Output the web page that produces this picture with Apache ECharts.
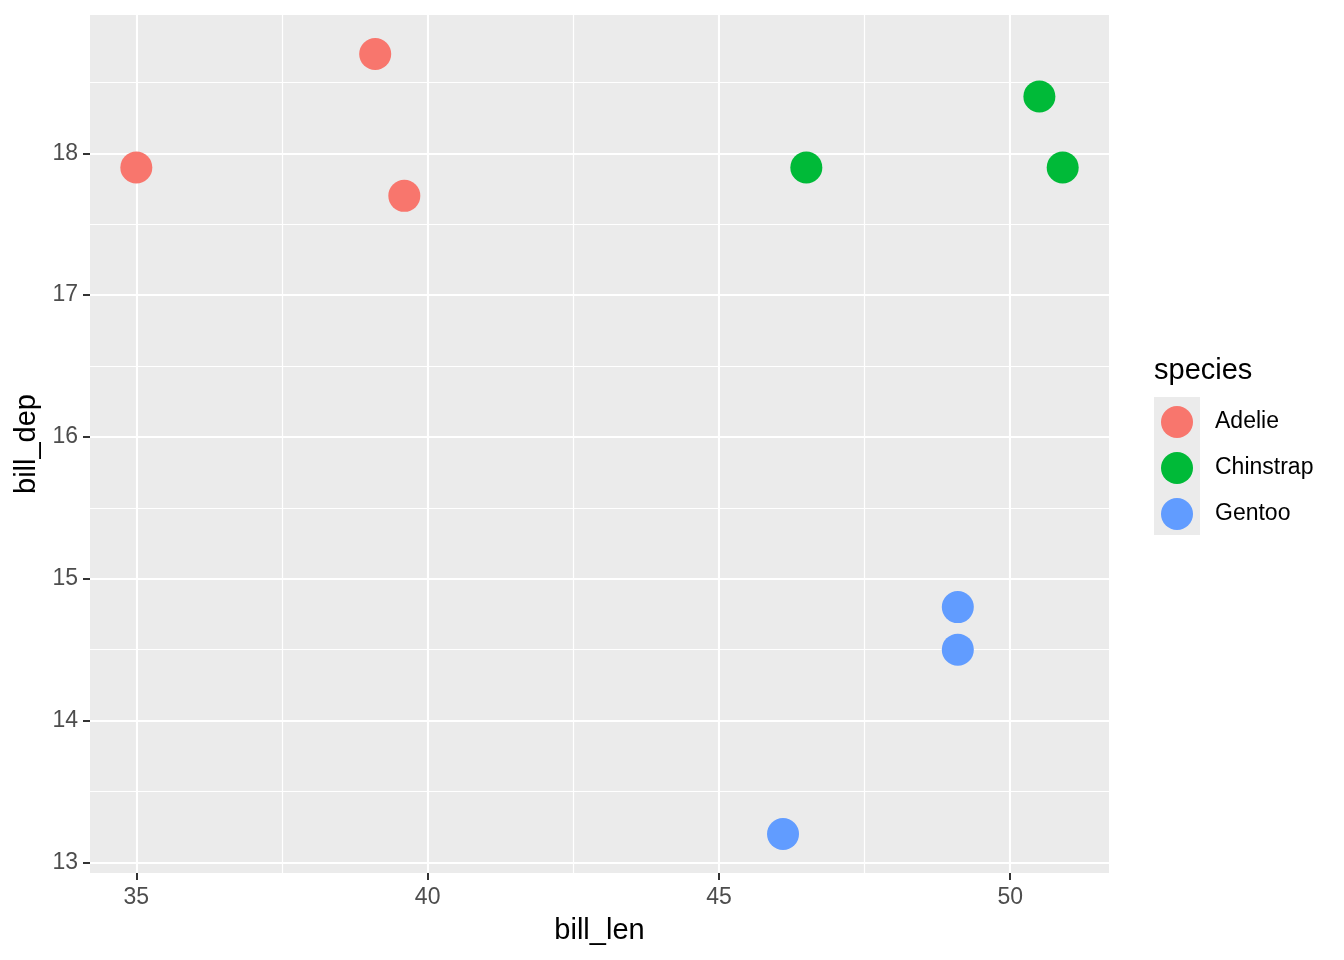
<!DOCTYPE html>
<html>
<head>
<meta charset="utf-8">
<script src="https://cdn.jsdelivr.net/npm/echarts@6/dist/echarts.min.js"></script>
<style>
  html, body { margin: 0; padding: 0; background: #fff; }
  #main { width: 1344px; height: 960px; }
</style>
</head>
<body>
<div id="main"></div>
<script>
var species = ['Adelie', 'Chinstrap', 'Gentoo'];
var colors = ['#F8766D', '#00BA38', '#619CFF'];

var adelieLen = [35.0, 39.1, 39.6];
var adelieDep = [17.9, 18.7, 17.7];
var chinstrapLen = [46.5, 50.5, 50.9];
var chinstrapDep = [17.9, 18.4, 17.9];
var gentooLen = [49.1, 49.1, 46.1];
var gentooDep = [14.8, 14.5, 13.2];

var xTicks = [35, 40, 45, 50];
var xMinor = [37.5, 42.5, 47.5];
var yTicks = [13, 14, 15, 16, 17, 18];
var yMinor = [13.5, 14.5, 15.5, 16.5, 17.5, 18.5];

var FONT = 'Liberation Sans';

function pairs(xs, ys) {
  return xs.map(function (x, i) { return [x, ys[i]]; });
}
// ggplot style 5% expansion
function expand(vals) {
  var lo = Math.min.apply(null, vals), hi = Math.max.apply(null, vals);
  var pad = (hi - lo) * 0.05;
  return [lo - pad, hi + pad];
}
var xr = expand(adelieLen.concat(chinstrapLen, gentooLen));
var yr = expand(adelieDep.concat(chinstrapDep, gentooDep));

var gridLines = []
  .concat(xTicks.map(function (v) { return { xAxis: v, lineStyle: { width: 2.1 } }; }))
  .concat(xMinor.map(function (v) { return { xAxis: v, lineStyle: { width: 1.2 } }; }))
  .concat(yTicks.map(function (v) { return { yAxis: v, lineStyle: { width: 2.1 } }; }))
  .concat(yMinor.map(function (v) { return { yAxis: v, lineStyle: { width: 1.2 } }; }));

var myChart = echarts.init(document.getElementById('main'));

var option = {
  animation: false,
  textStyle: { fontFamily: FONT },
  grid: {
    left: 90, right: 235, top: 15, bottom: 87,
    show: true, backgroundColor: '#EBEBEB', borderWidth: 0
  },
  xAxis: {
    type: 'value',
    min: xr[0], max: xr[1],
    name: 'bill_len',
    nameLocation: 'middle',
    nameGap: 43,
    nameTextStyle: { fontSize: 29, color: '#000', fontFamily: FONT },
    axisLine: { show: false },
    axisTick: { show: true, length: 7, customValues: xTicks, lineStyle: { color: '#333', width: 2 } },
    axisLabel: { customValues: xTicks, margin: 13, fontSize: 23, color: '#4D4D4D', fontFamily: FONT },
    splitLine: { show: false }
  },
  yAxis: {
    type: 'value',
    min: yr[0], max: yr[1],
    name: 'bill_dep',
    nameLocation: 'middle',
    nameGap: 45,
    nameTextStyle: { fontSize: 29, color: '#000', fontFamily: FONT },
    axisLine: { show: false },
    axisTick: { show: true, length: 7, customValues: yTicks, lineStyle: { color: '#333', width: 2 } },
    axisLabel: { customValues: yTicks, margin: 12, fontSize: 23, color: '#4D4D4D', fontFamily: FONT },
    splitLine: { show: false }
  },
  legend: {
    orient: 'vertical',
    left: 1161, top: 406,
    padding: 0,
    itemWidth: 32, itemHeight: 32, itemGap: 14,
    icon: 'circle',
    data: species,
    textStyle: { fontSize: 23, color: '#000', fontFamily: FONT, padding: [0, 0, 0, 17] }
  },
  graphic: [
    { type: 'rect', left: 1154, top: 397, shape: { width: 46, height: 138 }, style: { fill: '#EBEBEB' }, z: -1 },
    { type: 'text', left: 1154, top: 356, style: { text: 'species', font: '29px "Liberation Sans"', fill: '#000' } }
  ],
  series: [
    {
      type: 'scatter', data: [], z: 1, silent: true,
      markLine: {
        z: 1,
        silent: true, symbol: ['none', 'none'], label: { show: false },
        lineStyle: { color: '#FFFFFF', type: 'solid' },
        emphasis: { disabled: true },
        data: gridLines
      }
    },
    { name: species[0], type: 'scatter', z: 3, symbolSize: 32, itemStyle: { color: colors[0], opacity: 1 }, data: pairs(adelieLen, adelieDep) },
    { name: species[1], type: 'scatter', z: 3, symbolSize: 32, itemStyle: { color: colors[1], opacity: 1 }, data: pairs(chinstrapLen, chinstrapDep) },
    { name: species[2], type: 'scatter', z: 3, symbolSize: 32, itemStyle: { color: colors[2], opacity: 1 }, data: pairs(gentooLen, gentooDep) }
  ]
};

myChart.setOption(option);
</script>
</body>
</html>
